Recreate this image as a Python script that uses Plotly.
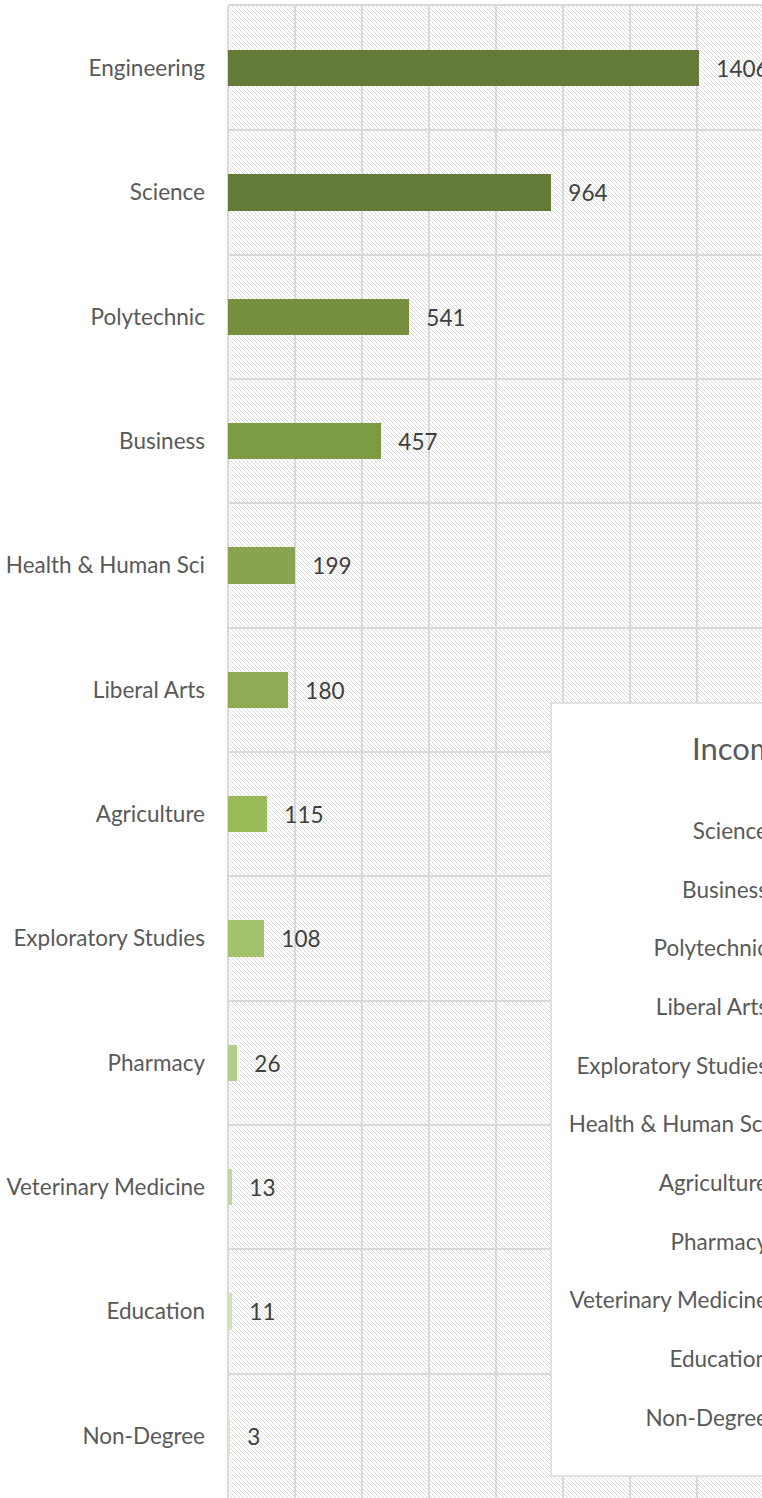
import base64
import plotly.graph_objects as go

# main chart data (top to bottom)
colleges = ['Engineering', 'Science', 'Polytechnic', 'Business', 'Health & Human Sci',
            'Liberal Arts', 'Agriculture', 'Exploratory Studies', 'Pharmacy',
            'Veterinary Medicine', 'Education', 'Non-Degree']
students = [1406, 964, 541, 457, 199, 180, 115, 108, 26, 13, 11, 3]
bar_colors = ['#647b37', '#647b37', '#758f3f', '#7d9a45', '#88a44f', '#8fac55',
              '#9bbb59', '#a3c26c', '#b1cd89', '#c1d7a4', '#d0e1bc', '#dbe8cd']

# second chart, only its left edge is in the picture
inset_title = 'Incoming Students'
inset_colleges = ['Science', 'Business', 'Polytechnic', 'Liberal Arts', 'Exploratory Studies',
                  'Health & Human Sci', 'Agriculture', 'Pharmacy', 'Veterinary Medicine',
                  'Education', 'Non-Degree']

FONT = 'Lato'
FS = 22.5
W, H = 762, 1498
ML, MT = 228, 6
plot_w, plot_h = W - ML, H - MT


def px_x(px):
    return (px - ML) / plot_w


def px_y(py):
    return (H - py) / plot_h


# light downward diagonal hatch for the plot background
hatch_svg = (
    f'<svg xmlns="http://www.w3.org/2000/svg" width="{plot_w}" height="{plot_h}">'
    '<defs><pattern id="p" width="4" height="4" patternUnits="userSpaceOnUse">'
    '<path d="M-1,-1 L5,5 M3,-1 L5,1 M-1,3 L1,5" stroke="#dcdcdc" stroke-width="1"/>'
    '</pattern></defs>'
    f'<rect width="{plot_w}" height="{plot_h}" fill="white"/>'
    f'<rect width="{plot_w}" height="{plot_h}" fill="url(#p)"/></svg>'
)
hatch_uri = 'data:image/svg+xml;base64,' + base64.b64encode(hatch_svg.encode()).decode()

fig = go.Figure()

fig.add_trace(go.Bar(
    x=students,
    y=colleges,
    orientation='h',
    width=0.29,
    marker=dict(color=bar_colors, line=dict(width=0)),
    text=students,
    texttemplate='\u00a0\u00a0\u2009%{text}',
    textposition='outside',
    constraintext='none',
    cliponaxis=False,
    textfont=dict(family=FONT, size=FS, color='#404040'),
    hoverinfo='skip',
))

# empty trace so the inset subplot exists
fig.add_trace(go.Scatter(x=[], y=[], xaxis='x2', yaxis='y2', hoverinfo='skip'))

# inset geometry (pixels)
row_pitch = 58.7
first_row = 831
box_l, box_t, box_b = 551, 703, 1476


def row_of(py):
    return (py - first_row) / row_pitch


fig.update_layout(
    width=W, height=H,
    margin=dict(l=ML, r=0, t=MT, b=0, pad=0),
    paper_bgcolor='white',
    plot_bgcolor='rgba(0,0,0,0)',
    showlegend=False,
    bargap=0,
    font=dict(family=FONT, color='#595959'),
    xaxis=dict(
        range=[0, 1594], dtick=200, showticklabels=False,
        showgrid=True, gridcolor='#d9d9d9', gridwidth=1.5,
        zeroline=True, zerolinecolor='#d9d9d9', zerolinewidth=1.5,
        showline=True, mirror=True, linecolor='#d9d9d9', linewidth=1.5,
        fixedrange=True,
    ),
    yaxis=dict(
        categoryorder='array', categoryarray=colleges, autorange='reversed',
        tickson='boundaries', ticks='', showgrid=True,
        gridcolor='#d9d9d9', gridwidth=1.5,
        tickfont=dict(family=FONT, size=FS, color='#595959'),
        ticklabelstandoff=22,
        fixedrange=True,
    ),
    xaxis2=dict(
        domain=[px_x(box_l - 2), 1], range=[box_l - 2, W], anchor='y2',
        visible=False, fixedrange=True,
    ),
    yaxis2=dict(
        domain=[px_y(box_b + 2), px_y(box_t - 2)],
        range=[row_of(box_b + 2), row_of(box_t - 2)],
        anchor='free', position=1, side='left',
        tickvals=list(range(len(inset_colleges))), ticktext=inset_colleges,
        ticks='', showgrid=False, zeroline=False, showline=False,
        ticklabelstandoff=-6, ticklabeloverflow='allow',
        tickfont=dict(family=FONT, size=FS, color='#595959'),
        fixedrange=True,
    ),
    shapes=[dict(
        type='rect', xref='x2', yref='y2', layer='below',
        x0=box_l, x1=W + 20, y0=row_of(box_t), y1=row_of(box_b),
        fillcolor='white', line=dict(color='#d9d9d9', width=1.5),
    )],
    images=[dict(
        source=hatch_uri, xref='paper', yref='paper', x=0, y=1,
        sizex=1, sizey=1, xanchor='left', yanchor='top',
        sizing='stretch', layer='below',
    )],
    annotations=[dict(
        text=inset_title, xref='paper', yref='paper',
        x=px_x(690), y=px_y(748), xanchor='left', yanchor='middle',
        showarrow=False, font=dict(family=FONT, size=31, color='#595959'),
    )],
)

# drop the default page margin so the chart sits at the window's corner
fig.write_html('out.html', config={'displayModeBar': False},
               post_script="document.body.style.margin='0';")
